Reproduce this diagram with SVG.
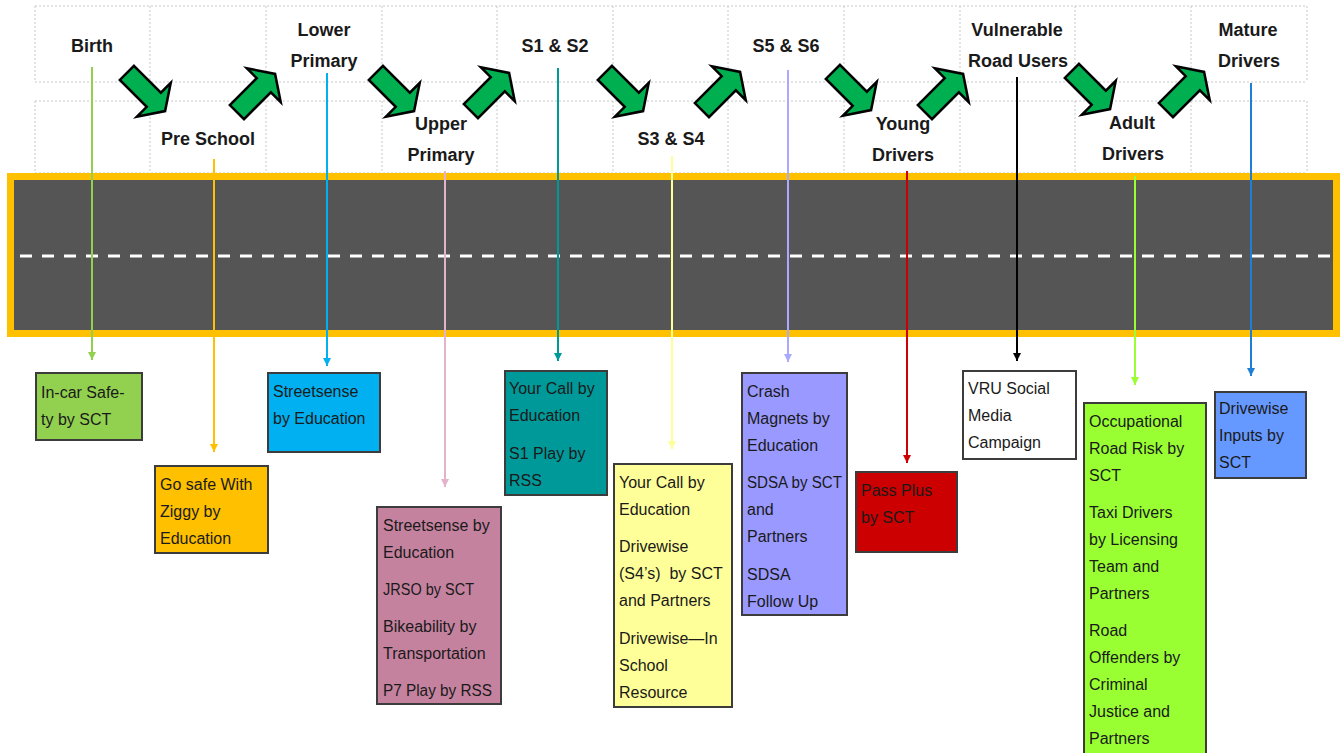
<svg xmlns="http://www.w3.org/2000/svg" width="1340" height="753" viewBox="0 0 1340 753">
  <style>
    .grid { fill: none; stroke: #c8c8c8; stroke-width: 1; stroke-dasharray: 2 2; }
    .hdr { font-family: 'Liberation Sans', Arial, sans-serif; font-weight: bold; font-size: 18px; fill: #1a1a1a; text-anchor: middle; }
    .lbl { font-family: 'Liberation Sans', Arial, sans-serif; font-size: 16px; fill: #1a1a1a; white-space: pre; }
    .box { stroke: #3c3c3c; stroke-width: 2; }
    .conn line { stroke-width: 2; fill: none; }
    .step { fill: #00B050; stroke: #000; stroke-width: 2.5; stroke-linejoin: miter; }
  </style>
  <defs>
    <!-- block arrow pointing along +x, centred on the origin -->
    <polygon id="fat" points="-27,-10 11,-10 11,-24 27,0 11,24 11,10 -27,10"/>
    <marker id="m-green" markerUnits="userSpaceOnUse" markerWidth="8" markerHeight="8" refX="8" refY="4" orient="auto"><path d="M0,0 L8,4 L0,8 z" fill="#92D050"/></marker>
    <marker id="m-amber" markerUnits="userSpaceOnUse" markerWidth="8" markerHeight="8" refX="8" refY="4" orient="auto"><path d="M0,0 L8,4 L0,8 z" fill="#FFC000"/></marker>
    <marker id="m-sky" markerUnits="userSpaceOnUse" markerWidth="8" markerHeight="8" refX="8" refY="4" orient="auto"><path d="M0,0 L8,4 L0,8 z" fill="#00B0F0"/></marker>
    <marker id="m-pink" markerUnits="userSpaceOnUse" markerWidth="8" markerHeight="8" refX="8" refY="4" orient="auto"><path d="M0,0 L8,4 L0,8 z" fill="#E3B3CC"/></marker>
    <marker id="m-teal" markerUnits="userSpaceOnUse" markerWidth="8" markerHeight="8" refX="8" refY="4" orient="auto"><path d="M0,0 L8,4 L0,8 z" fill="#009999"/></marker>
    <marker id="m-lemon" markerUnits="userSpaceOnUse" markerWidth="8" markerHeight="8" refX="8" refY="4" orient="auto"><path d="M0,0 L8,4 L0,8 z" fill="#FFFF99"/></marker>
    <marker id="m-lilac" markerUnits="userSpaceOnUse" markerWidth="8" markerHeight="8" refX="8" refY="4" orient="auto"><path d="M0,0 L8,4 L0,8 z" fill="#A9A9FF"/></marker>
    <marker id="m-red" markerUnits="userSpaceOnUse" markerWidth="8" markerHeight="8" refX="8" refY="4" orient="auto"><path d="M0,0 L8,4 L0,8 z" fill="#CC0000"/></marker>
    <marker id="m-black" markerUnits="userSpaceOnUse" markerWidth="8" markerHeight="8" refX="8" refY="4" orient="auto"><path d="M0,0 L8,4 L0,8 z" fill="#000000"/></marker>
    <marker id="m-lime" markerUnits="userSpaceOnUse" markerWidth="8" markerHeight="8" refX="8" refY="4" orient="auto"><path d="M0,0 L8,4 L0,8 z" fill="#99FF33"/></marker>
    <marker id="m-blue" markerUnits="userSpaceOnUse" markerWidth="8" markerHeight="8" refX="8" refY="4" orient="auto"><path d="M0,0 L8,4 L0,8 z" fill="#1F7FD4"/></marker>
  </defs>

  <rect width="1340" height="753" fill="#ffffff"/>

  <!-- dotted layout grid behind the stage headings -->
  <path class="grid" d="M35,6H1307 M35,82H1307 M35,101H1307 M35,173H1307
    M35,6V82 M150,6V82 M266,6V82 M382,6V82 M497,6V82 M613,6V82 M728,6V82 M844,6V82 M960,6V82 M1075,6V82 M1191,6V82 M1307,6V82
    M35,101V173 M150,101V173 M266,101V173 M382,101V173 M497,101V173 M613,101V173 M728,101V173 M844,101V173 M960,101V173 M1075,101V173 M1191,101V173 M1307,101V173"/>

  <!-- road -->
  <g id="road">
    <rect x="10.5" y="176.5" width="1326" height="157" fill="#555555" stroke="#FFC000" stroke-width="7"/>
    <line x1="20" y1="256" x2="1336" y2="256" stroke="#ffffff" stroke-width="3" stroke-dasharray="12 10"/>
  </g>

  <!-- stage-to-programme connectors -->
  <g id="connectors" class="conn">
    <line x1="92" y1="67" x2="92" y2="360" stroke="#92D050" marker-end="url(#m-green)"/>
    <line x1="214" y1="159" x2="214" y2="452" stroke="#FFC000" marker-end="url(#m-amber)"/>
    <line x1="327" y1="73" x2="327" y2="366" stroke="#00B0F0" marker-end="url(#m-sky)"/>
    <line x1="445" y1="171" x2="445" y2="487" stroke="#E3B3CC" marker-end="url(#m-pink)"/>
    <line x1="558" y1="68" x2="558" y2="361" stroke="#009999" marker-end="url(#m-teal)"/>
    <line x1="672" y1="156" x2="672" y2="449" stroke="#FFFF99" marker-end="url(#m-lemon)"/>
    <line x1="788" y1="70" x2="788" y2="362" stroke="#A9A9FF" marker-end="url(#m-lilac)"/>
    <line x1="907" y1="171" x2="907" y2="463" stroke="#CC0000" marker-end="url(#m-red)"/>
    <line x1="1017" y1="77" x2="1017" y2="361" stroke="#000000" marker-end="url(#m-black)"/>
    <line x1="1135" y1="176" x2="1135" y2="385" stroke="#99FF33" marker-end="url(#m-lime)"/>
    <line x1="1251" y1="83" x2="1251" y2="376" stroke="#1F7FD4" marker-end="url(#m-blue)"/>
  </g>

  <!-- progression arrows between stages -->
  <g id="steps">
    <use href="#fat" class="step" transform="translate(146,92) rotate(45)"/>
    <use href="#fat" class="step" transform="translate(256,93) rotate(-45)"/>
    <use href="#fat" class="step" transform="translate(395,92) rotate(45)"/>
    <use href="#fat" class="step" transform="translate(490,92) rotate(-45)"/>
    <use href="#fat" class="step" transform="translate(624,92) rotate(45)"/>
    <use href="#fat" class="step" transform="translate(721,91) rotate(-45)"/>
    <use href="#fat" class="step" transform="translate(852,91) rotate(45)"/>
    <use href="#fat" class="step" transform="translate(944,93) rotate(-45)"/>
    <use href="#fat" class="step" transform="translate(1091,90) rotate(45)"/>
    <use href="#fat" class="step" transform="translate(1185,91) rotate(-45)"/>
  </g>

  <!-- stage headings -->
  <g id="stage-birth"><text class="hdr" x="92" y="52">Birth</text></g>
  <g id="stage-preschool"><text class="hdr" x="208" y="145">Pre School</text></g>
  <g id="stage-lower-primary"><text class="hdr" x="324" y="36">Lower</text><text class="hdr" x="324" y="67">Primary</text></g>
  <g id="stage-upper-primary"><text class="hdr" x="441" y="130">Upper</text><text class="hdr" x="441" y="161">Primary</text></g>
  <g id="stage-s1s2"><text class="hdr" x="555" y="52">S1 &amp; S2</text></g>
  <g id="stage-s3s4"><text class="hdr" x="671" y="145">S3 &amp; S4</text></g>
  <g id="stage-s5s6"><text class="hdr" x="786" y="52">S5 &amp; S6</text></g>
  <g id="stage-young"><text class="hdr" x="903" y="130">Young</text><text class="hdr" x="903" y="161">Drivers</text></g>
  <g id="stage-vru"><text class="hdr" x="1017" y="36">Vulnerable</text><text class="hdr" x="1018" y="67">Road Users</text></g>
  <g id="stage-adult"><text class="hdr" x="1132" y="129">Adult</text><text class="hdr" x="1133" y="160">Drivers</text></g>
  <g id="stage-mature"><text class="hdr" x="1248" y="36">Mature</text><text class="hdr" x="1249" y="67">Drivers</text></g>

  <!-- programme boxes -->
  <g id="box-incar">
    <rect class="box" x="36" y="373" width="106" height="67" fill="#92D050"/>
    <text class="lbl"><tspan x="41" y="398">In-car Safe-</tspan><tspan x="41" y="425">ty by SCT</tspan></text>
  </g>
  <g id="box-ziggy">
    <rect class="box" x="155" y="466" width="113" height="87" fill="#FFC000"/>
    <text class="lbl"><tspan x="160" y="490">Go safe With</tspan><tspan x="160" y="517">Ziggy by</tspan><tspan x="160" y="544">Education</tspan></text>
  </g>
  <g id="box-streetsense">
    <rect class="box" x="268" y="373" width="112" height="79" fill="#00B0F0"/>
    <text class="lbl"><tspan x="273" y="397">Streetsense</tspan><tspan x="273" y="424">by Education</tspan></text>
  </g>
  <g id="box-upper-primary">
    <rect class="box" x="377" y="507" width="124" height="197" fill="#C5829F"/>
    <text class="lbl"><tspan x="383" y="531">Streetsense by</tspan><tspan x="383" y="558">Education</tspan><tspan x="383" y="595" textLength="91" lengthAdjust="spacingAndGlyphs">JRSO by SCT</tspan><tspan x="383" y="632">Bikeability by</tspan><tspan x="383" y="659">Transportation</tspan><tspan x="383" y="696" textLength="109" lengthAdjust="spacingAndGlyphs">P7 Play by RSS</tspan></text>
  </g>
  <g id="box-s1s2">
    <rect class="box" x="505" y="371" width="102" height="124" fill="#009999"/>
    <text class="lbl"><tspan x="509" y="394">Your Call by</tspan><tspan x="509" y="421">Education</tspan><tspan x="509" y="459">S1 Play by</tspan><tspan x="509" y="486">RSS</tspan></text>
  </g>
  <g id="box-s3s4">
    <rect class="box" x="614" y="464" width="118" height="243" fill="#FFFF99"/>
    <text class="lbl"><tspan x="619" y="488">Your Call by</tspan><tspan x="619" y="515">Education</tspan><tspan x="619" y="552">Drivewise</tspan><tspan x="619" y="579">(S4’s)  by SCT</tspan><tspan x="619" y="606">and Partners</tspan><tspan x="619" y="644">Drivewise—In</tspan><tspan x="619" y="671">School</tspan><tspan x="619" y="698">Resource</tspan></text>
  </g>
  <g id="box-s5s6">
    <rect class="box" x="742" y="373" width="105" height="242" fill="#9999FF"/>
    <text class="lbl"><tspan x="747" y="397">Crash</tspan><tspan x="747" y="424">Magnets by</tspan><tspan x="747" y="451">Education</tspan><tspan x="747" y="488" textLength="95" lengthAdjust="spacingAndGlyphs">SDSA by SCT</tspan><tspan x="747" y="515">and</tspan><tspan x="747" y="542">Partners</tspan><tspan x="747" y="580">SDSA</tspan><tspan x="747" y="607">Follow Up</tspan></text>
  </g>
  <g id="box-passplus">
    <rect class="box" x="856" y="472" width="101" height="80" fill="#CC0000"/>
    <text class="lbl"><tspan x="861" y="496">Pass Plus</tspan><tspan x="861" y="523">by SCT</tspan></text>
  </g>
  <g id="box-vru">
    <rect class="box" x="963" y="371" width="113" height="88" fill="#ffffff"/>
    <text class="lbl"><tspan x="968" y="394">VRU Social</tspan><tspan x="968" y="421">Media</tspan><tspan x="968" y="448">Campaign</tspan></text>
  </g>
  <g id="box-adult">
    <rect class="box" x="1084" y="403" width="122" height="360" fill="#99FF33"/>
    <text class="lbl"><tspan x="1089" y="427">Occupational</tspan><tspan x="1089" y="454">Road Risk by</tspan><tspan x="1089" y="481">SCT</tspan><tspan x="1089" y="518">Taxi Drivers</tspan><tspan x="1089" y="545">by Licensing</tspan><tspan x="1089" y="572">Team and</tspan><tspan x="1089" y="599">Partners</tspan><tspan x="1089" y="636">Road</tspan><tspan x="1089" y="663">Offenders by</tspan><tspan x="1089" y="690">Criminal</tspan><tspan x="1089" y="717">Justice and</tspan><tspan x="1089" y="744">Partners</tspan></text>
  </g>
  <g id="box-mature">
    <rect class="box" x="1215" y="392" width="91" height="86" fill="#6699FF"/>
    <text class="lbl"><tspan x="1219" y="414">Drivewise</tspan><tspan x="1219" y="441">Inputs by</tspan><tspan x="1219" y="468">SCT</tspan></text>
  </g>
</svg>
